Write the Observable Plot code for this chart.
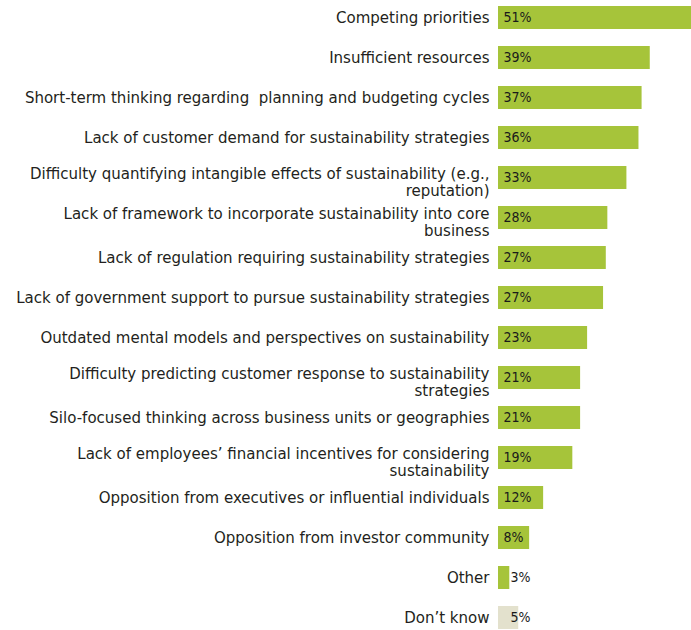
<!DOCTYPE html>
<html>
<head>
<meta charset="utf-8">
<script src="https://cdn.jsdelivr.net/npm/d3@7"></script>
<script src="https://cdn.jsdelivr.net/npm/@observablehq/plot@0.6"></script>
<style>
  html, body { margin: 0; padding: 0; background: #fff; overflow: hidden; }
  #chart svg { display: block; }
</style>
</head>
<body>
<div id="chart"></div>
<script>
const categories = [
  "Competing priorities",
  "Insufficient resources",
  "Short-term thinking regarding  planning and budgeting cycles",
  "Lack of customer demand for sustainability strategies",
  "Difficulty quantifying intangible effects of sustainability (e.g.,\nreputation)",
  "Lack of framework to incorporate sustainability into core\nbusiness",
  "Lack of regulation requiring sustainability strategies",
  "Lack of government support to pursue sustainability strategies",
  "Outdated mental models and perspectives on sustainability",
  "Difficulty predicting customer response to sustainability\nstrategies",
  "Silo-focused thinking across business units or geographies",
  "Lack of employees’ financial incentives for considering\nsustainability",
  "Opposition from executives or influential individuals",
  "Opposition from investor community",
  "Other",
  "Don’t know"
];
const values = [51, 39, 36.9, 36.1, 33, 28.1, 27.7, 27.0, 22.9, 21.1, 21.1, 19.1, 11.6, 8.0, 2.9, 5.2];
const labels = ["51%", "39%", "37%", "36%", "33%", "28%", "27%", "27%", "23%", "21%", "21%", "19%", "12%", "8%", "3%", "5%"];

const data = categories.map((c, i) => ({category: c, value: values[i], label: labels[i]}));

const GREEN = "#a6c43a";
const BEIGE = "#e3e1cd";
const FONT = "'DejaVu Sans Condensed', 'DejaVu Sans', sans-serif";

const chart = Plot.plot({
  width: 691,
  height: 630,
  marginLeft: 498,
  marginRight: 0,
  marginTop: 0,
  marginBottom: 0,
  style: {fontFamily: FONT, background: "#fff"},
  x: {domain: [0, 49.6], range: [498, 691], axis: null},
  y: {domain: categories, range: [-2.5, 637.5], paddingInner: 0.425, paddingOuter: 0.2125, axis: null},
  marks: [
    Plot.barX(data, {
      x: "value", y: "category",
      fill: d => d.category === "Don’t know" ? BEIGE : GREEN,
      clip: true
    }),
    Plot.text(data.filter(d => !d.category.includes("\n")), {
      x: 0, y: "category", text: "category",
      textAnchor: "end", dx: -9, dy: 0,
      fontSize: 16.7, fill: "#231f20"
    }),
    Plot.text(data.filter(d => d.category.includes("\n")), {
      x: 0, y: "category", text: "category",
      textAnchor: "end", dx: -9, dy: 4, lineHeight: 1.0,
      fontSize: 16.7, fill: "#231f20"
    }),
    Plot.text(data.filter(d => d.value >= 6), {
      x: 0, y: "category", text: "label",
      textAnchor: "start", dx: 5, fontSize: 14, fill: "#1a1a1a"
    }),
    Plot.text(data.filter(d => d.value < 6), {
      x: 0, y: "category", text: "label",
      textAnchor: "start", dx: 12, fontSize: 14, fill: "#1a1a1a"
    })
  ]
});
document.getElementById("chart").appendChild(chart);
</script>
</body>
</html>
